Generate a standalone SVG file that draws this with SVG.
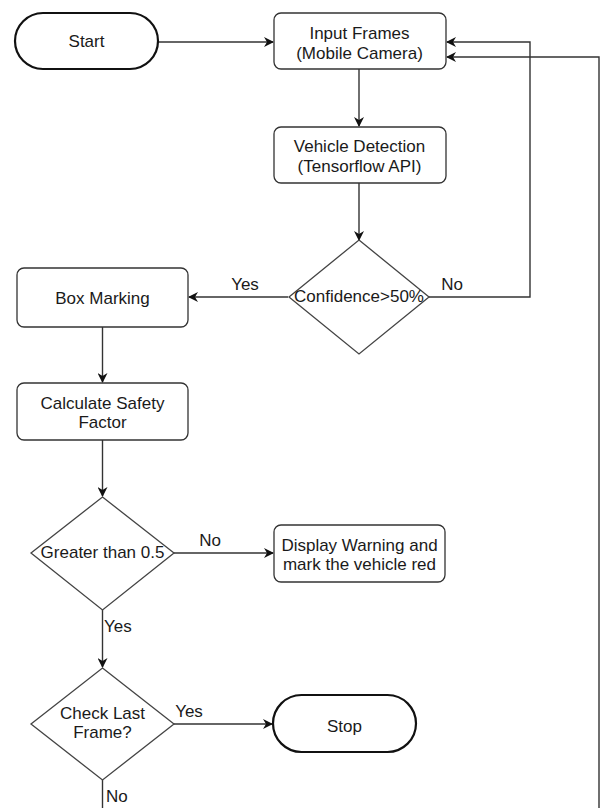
<svg xmlns="http://www.w3.org/2000/svg" width="600" height="808" viewBox="0 0 600 808">
<defs>
<style>
text{font-family:"Liberation Sans",Arial,sans-serif;font-size:17px;fill:#1a1a1a;text-anchor:middle}
.st{text-anchor:start}
.box{fill:#fff;stroke:#333;stroke-width:1.3}
.term{fill:#fff;stroke:#111;stroke-width:2.2}
.dia{fill:#fff;stroke:#444;stroke-width:1.3}
.con{fill:none;stroke:#333;stroke-width:1.4}
</style>
<marker id="arr" viewBox="0 0 10 10" refX="9" refY="5" markerWidth="10" markerHeight="10" markerUnits="userSpaceOnUse" orient="auto">
<path d="M0,0 L10,5 L0,10 L3,5 Z" fill="#111"/>
</marker>
</defs>
<rect width="600" height="808" fill="#fff"/>
<g id="connectors">
<path class="con" d="M158,42 H273" marker-end="url(#arr)"/>
<path class="con" d="M359,69 V126" marker-end="url(#arr)"/>
<path class="con" d="M359,183 V240" marker-end="url(#arr)"/>
<path class="con" d="M288,297 H189" marker-end="url(#arr)"/>
<path class="con" d="M429,297 H530 V42 H447" marker-end="url(#arr)"/>
<path class="con" d="M599,808 V57 H447" marker-end="url(#arr)"/>
<path class="con" d="M102.5,327 V382" marker-end="url(#arr)"/>
<path class="con" d="M102.5,440 V496" marker-end="url(#arr)"/>
<path class="con" d="M174,553 H273" marker-end="url(#arr)"/>
<path class="con" d="M102.5,610 V667" marker-end="url(#arr)"/>
<path class="con" d="M174,724 H272" marker-end="url(#arr)"/>
<path class="con" d="M102.5,780 V808"/>
<text x="245" y="290">Yes</text>
<text x="452" y="290">No</text>
<text x="210" y="546">No</text>
<text class="st" x="104" y="632">Yes</text>
<text x="189" y="717">Yes</text>
<text class="st" x="106" y="802">No</text>
</g>
<g id="start">
<rect class="term" x="15" y="13" width="143" height="56" rx="28" ry="28"/>
<text x="86.5" y="47">Start</text>
</g>
<g id="input">
<rect class="box" x="274" y="13" width="172" height="56" rx="7"/>
<text x="359.5" y="39">Input Frames</text>
<text x="359.5" y="59">(Mobile Camera)</text>
</g>
<g id="detection">
<rect class="box" x="274" y="127" width="172" height="56" rx="7"/>
<text x="359.5" y="152">Vehicle Detection</text>
<text x="359.5" y="172">(Tensorflow API)</text>
</g>
<g id="confidence">
<path class="dia" d="M359,240 L429,297 L359,354 L289,297 Z"/>
<text x="359" y="302">Confidence&gt;50%</text>
</g>
<g id="boxmarking">
<rect class="box" x="17" y="268" width="171" height="59" rx="7"/>
<text x="102.5" y="304">Box Marking</text>
</g>
<g id="safety">
<rect class="box" x="17" y="383" width="171" height="57" rx="7"/>
<text x="102.5" y="409">Calculate Safety</text>
<text x="102.5" y="428">Factor</text>
</g>
<g id="greater">
<path class="dia" d="M102.5,497 L174,553 L102.5,610 L31,553 Z"/>
<text x="102.5" y="558">Greater than 0.5</text>
</g>
<g id="warning">
<rect class="box" x="274" y="525" width="171" height="57" rx="7"/>
<text x="359.5" y="551">Display Warning and</text>
<text x="359.5" y="570">mark the vehicle red</text>
</g>
<g id="lastframe">
<path class="dia" d="M102.5,668 L174,724 L102.5,780 L31,724 Z"/>
<text x="102.5" y="719">Check Last</text>
<text x="102.5" y="738">Frame?</text>
</g>
<g id="stop">
<rect class="term" x="273" y="695" width="143" height="57" rx="28.5" ry="28.5"/>
<text x="344.5" y="732">Stop</text>
</g>
</svg>
